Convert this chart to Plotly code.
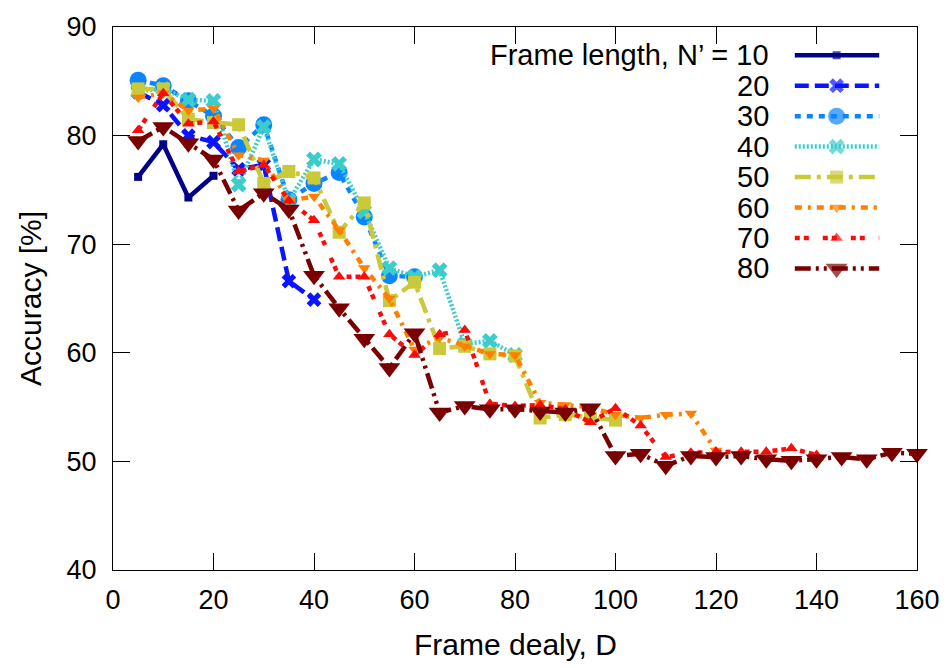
import plotly.graph_objects as go

# Frame delay D (shared x grid); each series stops at D = 2 * N'
frame_delay = [5, 10, 15, 20, 25, 30, 35, 40, 45, 50, 55, 60, 65, 70, 75, 80,
               85, 90, 95, 100, 105, 110, 115, 120, 125, 130, 135, 140, 145, 150, 155, 160]

frame_lengths = [10, 20, 30, 40, 50, 60, 70, 80]

acc_n10 = [76.2, 79.2, 74.3, 76.3]
acc_n20 = [84.0, 82.8, 80.0, 79.4, 76.9, 77.3, 66.6, 64.9]
acc_n30 = [85.1, 84.6, 83.2, 81.8, 78.9, 81.0, 74.1, 75.6, 76.6, 72.5, 67.1, 67.0]
acc_n40 = [84.1, 84.3, 83.3, 83.2, 75.5, 80.8, 74.0, 77.8, 77.4, 73.0, 67.8, 67.0,
           67.6, 60.8, 61.1, 59.8]
acc_n50 = [84.3, 84.3, 81.5, 81.2, 81.0, 75.6, 76.7, 76.1, 71.1, 73.8, 64.8, 66.5,
           60.4, 60.6, 59.9, 59.7, 54.0, 54.3, 54.0, 53.8]
acc_n60 = [83.5, 83.9, 82.3, 82.5, 78.2, 77.7, 74.0, 74.4, 71.3, 67.8, 65.0, 60.3,
           61.4, 60.6, 59.9, 59.8, 55.4, 55.2, 55.0, 54.3, 54.0, 54.3, 54.4, 51.0]
acc_n70 = [80.5, 83.9, 81.1, 81.3, 76.7, 77.3, 74.0, 72.2, 67.0, 67.0, 61.7, 59.8,
           61.7, 62.1, 55.3, 55.1, 55.2, 54.8, 53.6, 54.9, 53.3, 50.4, 50.8, 50.9,
           50.9, 50.9, 51.2, 50.6]
acc_n80 = [79.5, 80.8, 79.3, 77.8, 73.1, 74.7, 73.2, 67.1, 64.1, 61.3, 58.6, 61.8,
           54.5, 55.1, 54.8, 54.8, 54.6, 54.5, 54.9, 50.5, 50.7, 49.6, 50.5, 50.4,
           50.5, 50.2, 50.05, 50.2, 50.4, 50.2, 50.8, 50.7]

x_ticks = [0, 20, 40, 60, 80, 100, 120, 140, 160]
y_ticks = [40, 50, 60, 70, 80, 90]

series = [acc_n10, acc_n20, acc_n30, acc_n40, acc_n50, acc_n60, acc_n70, acc_n80]

# line/marker style per frame length
styles = [
    dict(color="#00008b", dash="solid", symbol="square", size=8),
    dict(color="#0a14ff", dash="14px,6px", symbol="x", size=13),
    dict(color="#0a84ff", dash="6px,6px", symbol="circle", size=17),
    dict(color="#3ccccc", dash="2px,2px", symbol="x", size=14),
    dict(color="#c9c93a", dash="16px,6px,4px,6px", symbol="square", size=13),
    dict(color="#ff8000", dash="7px,6px,3px,6px", symbol="triangle-down", size=11),
    dict(color="#ff0a0a", dash="5px,4px,5px,14px", symbol="triangle-up", size=11),
    dict(color="#7a0000", dash="16px,5px,3px,5px,3px,5px", symbol="triangle-down", size=19),
]

FONT = "Liberation Sans, Arial, sans-serif"
fig = go.Figure()

for n, vals, st in zip(frame_lengths, series, styles):
    fig.add_trace(go.Scatter(
        x=frame_delay[:len(vals)], y=vals, mode="lines+markers",
        name=f"N' = {n}",
        line=dict(color=st["color"], width=4.5, dash=st["dash"]),
        marker=dict(color=st["color"], symbol=st["symbol"], size=st["size"],
                    line=dict(width=0)),
        showlegend=False, cliponaxis=False,
    ))

# key drawn gnuplot-style: label on the left, sample on the right
key_x0, key_xm, key_x1 = 0.848, 0.900, 0.953
key_top, key_step = 0.948, 0.0561
for i, (n, st) in enumerate(zip(frame_lengths, styles)):
    ky = key_top - i * key_step
    fig.add_trace(go.Scatter(
        x=[key_x0, key_xm, key_x1], y=[ky, ky, ky], mode="lines+markers",
        xaxis="x2", yaxis="y2",
        line=dict(color=st["color"], width=4.5, dash=st["dash"]),
        marker=dict(color=st["color"], symbol=st["symbol"],
                    size=[0, st["size"], 0], line=dict(width=0)),
        showlegend=False, hoverinfo="skip",
    ))
    label = f"Frame length, N\u2019 = {n}" if i == 0 else str(n)
    fig.add_annotation(x=0.819, y=ky, xref="paper", yref="paper",
                       text=label, showarrow=False, xanchor="right",
                       yanchor="middle", font=dict(family=FONT, size=29, color="black"))

axis_common = dict(showline=True, linecolor="black", linewidth=1, mirror="ticks",
                   ticks="inside", ticklen=17, tickwidth=1, tickcolor="black",
                   showgrid=False, zeroline=False,
                   tickfont=dict(family=FONT, size=27, color="black"))

fig.update_layout(
    width=952, height=668,
    margin=dict(l=113, r=31, t=23, b=98),
    paper_bgcolor="white", plot_bgcolor="white",
    xaxis=dict(range=[0, 160], tickvals=x_ticks, ticklabelstandoff=6, **axis_common),
    yaxis=dict(range=[40, 90], tickvals=y_ticks, ticklabelstandoff=10, **axis_common),
    xaxis2=dict(range=[0, 1], overlaying="x", visible=False, fixedrange=True),
    yaxis2=dict(range=[0, 1], overlaying="y", visible=False, fixedrange=True),
    showlegend=False,
)

fig.add_annotation(x=0.5, y=-0.137, xref="paper", yref="paper", text="Frame dealy, D",
                   showarrow=False, xanchor="center", yanchor="middle",
                   font=dict(family=FONT, size=30, color="black"))
fig.add_annotation(x=-0.1027, y=0.5, xref="paper", yref="paper", text="Accuracy [%]",
                   showarrow=False, textangle=-90, xanchor="center", yanchor="middle",
                   font=dict(family=FONT, size=30, color="black"))

fig.write_html("out.html")
